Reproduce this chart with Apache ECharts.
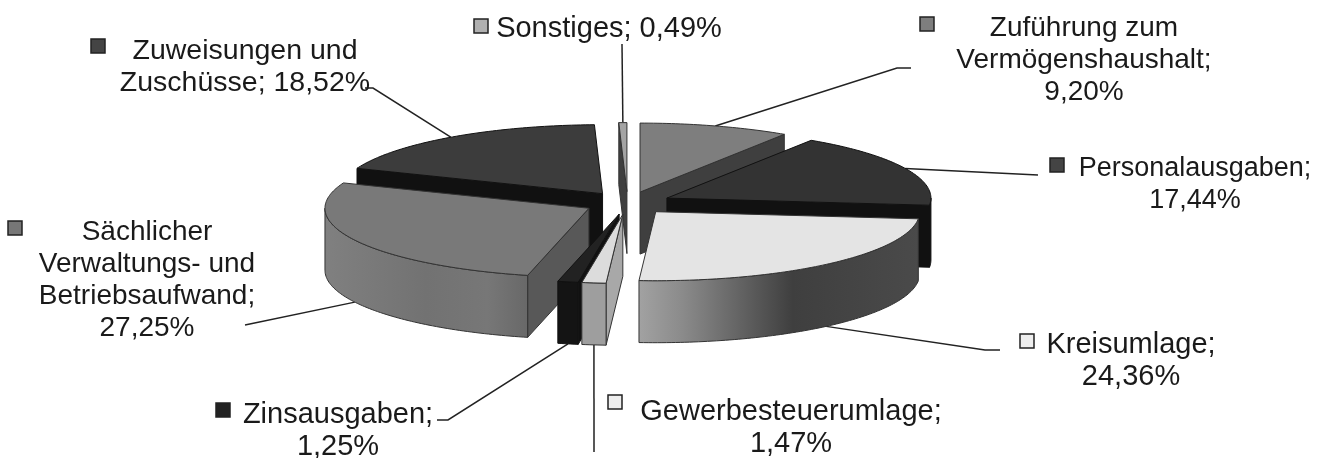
<!DOCTYPE html>
<html>
<head>
<meta charset="utf-8">
<title>Ausgaben</title>
<script src="https://cdn.jsdelivr.net/npm/echarts@6/dist/echarts.min.js"></script>
<style>
  html, body { margin: 0; padding: 0; background: #fff; }
  #main { width: 1342px; height: 458px; }
</style>
</head>
<body>
<div id="main"></div>
<script>
// data, clockwise from 12 o'clock
var categories = ['Zuführung zum\nVermögenshaushalt', 'Personalausgaben', 'Kreisumlage', 'Gewerbesteuerumlage',
  'Zinsausgaben', 'Sächlicher\nVerwaltungs- und\nBetriebsaufwand', 'Zuweisungen und\nZuschüsse', 'Sonstiges'];
var shares = [9.20, 17.44, 24.36, 1.47, 1.25, 27.25, 18.52, 0.49];
var valueSep = ['\n', '\n', '\n', '\n', '\n', '\n', ' ', ' '];

// pie projection
var cx = 627.6, cy = 203, rx = 264, ry = 69, depth = 62, explode = 0.165;

// greys of the slices
var topFill = ['#7e7e7e', '#333333', '#e4e4e4', '#dcdcdc', '#222222', '#797979', '#3c3c3c', '#a4a4a4'];
var cutFill = ['#3f3f3f', '#111111', '#111111', '#a8a8a8', '#111111', '#585858', '#111111', '#3f3f3f'];
var sideStops = [
  [[0, '#555'], [1, '#555']],
  [[0, '#111'], [1, '#111']],
  [[0, '#a2a2a2'], [0.16, '#8a8a8a'], [0.55, '#3f3f3f'], [1, '#4a4a4a']],
  [[0, '#9e9e9e'], [1, '#9e9e9e']],
  [[0, '#141414'], [1, '#141414']],
  [[0, '#808080'], [0.5, '#727272'], [0.8, '#777777'], [1, '#686868']],
  [[0, '#111'], [1, '#111']],
  [[0, '#555'], [1, '#555']]
];
var keyFill = ['#7e7e7e', '#444444', '#eeeeee', '#eeeeee', '#222222', '#777777', '#444444', '#b0b0b0'];

// label block centre, font size, legend key centre, leader line elbow points
var labelPos = [[1084, 60], [1195, 185], [1131, 361], [791, 428], [338, 431], [147, 280], [245, 67], [609, 29]];
var labelSize = [28, 27, 29, 29, 29, 28, 28.5, 29];
var keyPos = [[927, 24], [1057, 165], [1027, 341], [615, 402], [223, 410], [15, 228], [98, 46], [481, 26]];
var leaderEnds = [
  [[897, 68], [911, 68]],
  [[1038, 175]],
  [[985, 350], [1000, 350]],
  [[594, 452]],
  [[448, 420], [437, 420]],
  [[245, 325]],
  [[373, 88], [365, 88]],
  [[622, 44]]
];

var total = shares.reduce(function (a, b) { return a + b; }, 0);
var slices = [];
var acc = 0;
shares.forEach(function (v, i) {
  var t1 = acc / total * 360;
  acc += v;
  var t2 = acc / total * 360;
  var mid = (t1 + t2) / 2 * Math.PI / 180;
  slices.push({
    i: i, t1: t1, t2: t2, mid: (t1 + t2) / 2,
    cx: cx + explode * rx * Math.sin(mid),
    cy: cy - explode * ry * Math.cos(mid)
  });
});

function rimPoint(s, deg, drop) {
  var a = deg * Math.PI / 180;
  return [s.cx + rx * Math.sin(a), s.cy - ry * Math.cos(a) + (drop || 0)];
}
function arcPoints(s, from, to, drop) {
  var pts = [];
  var n = Math.max(2, Math.ceil(to - from));
  for (var k = 0; k <= n; k++) {
    pts.push(rimPoint(s, from + (to - from) * k / n, drop));
  }
  return pts;
}
function poly(points, fill, stroke) {
  return { type: 'polygon', shape: { points: points }, style: { fill: fill, stroke: stroke, lineWidth: 1 } };
}

function renderSlice(params, api) {
  var s = slices[api.value(0)];
  var kids = [];
  var apex = [s.cx, s.cy];
  var apexLow = [s.cx, s.cy + depth];
  var dark = s.i == 1 || s.i == 4 || s.i == 6 ? '#111' : '#333';

  // cut faces, only the ones turned to the viewer
  if (Math.sin(s.t1 * Math.PI / 180) < 0) {
    kids.push(poly([apex, rimPoint(s, s.t1), rimPoint(s, s.t1, depth), apexLow], cutFill[s.i], dark));
  }
  if (Math.sin(s.t2 * Math.PI / 180) > 0) {
    kids.push(poly([apex, rimPoint(s, s.t2), rimPoint(s, s.t2, depth), apexLow], cutFill[s.i], dark));
  }
  // outer wall
  var from = Math.max(s.t1, 90), to = Math.min(s.t2, 270);
  if (to > from) {
    var wall = arcPoints(s, from, to, 0).concat(arcPoints(s, from, to, depth).reverse());
    var stops = sideStops[s.i].map(function (st) { return { offset: st[0], color: st[1] }; });
    // gradient runs left to right on screen
    kids.push(poly(wall, new echarts.graphic.LinearGradient(0, 0, 1, 0, stops), dark));
  }
  // top
  kids.push(poly([apex].concat(arcPoints(s, s.t1, s.t2, 0)), topFill[s.i], dark));
  return { type: 'group', children: kids };
}

function renderLeader(params, api) {
  var s = slices[api.value(0)];
  // attaches at the middle of the slice rim, on the wall when the rim is at the front
  var front = Math.cos(s.mid * Math.PI / 180) < 0 && s.i != 1;
  var start = rimPoint(s, s.mid, front ? depth : 0);
  return {
    type: 'polyline',
    shape: { points: [start].concat(leaderEnds[s.i]) },
    style: { fill: null, stroke: '#222', lineWidth: 1.5 }
  };
}

function renderLabel(params, api) {
  var i = api.value(0);
  var txt = categories[i] + ';' + valueSep[i] + shares[i].toFixed(2).replace('.', ',') + '%';
  return {
    type: 'group',
    children: [
      {
        type: 'rect',
        shape: { x: keyPos[i][0] - 7, y: keyPos[i][1] - 7, width: 14, height: 14 },
        style: { fill: keyFill[i], stroke: '#222', lineWidth: 1.5 }
      },
      {
        type: 'text',
        x: labelPos[i][0],
        y: labelPos[i][1],
        style: {
          text: txt,
          fill: '#1a1a1a',
          fontFamily: '"Liberation Sans", Arial, sans-serif',
          fontSize: labelSize[i],
          lineHeight: 32,
          align: 'center',
          verticalAlign: 'middle'
        }
      }
    ]
  };
}

// back slices first
var drawOrder = slices.slice().sort(function (a, b) {
  return Math.cos(b.mid * Math.PI / 180) - Math.cos(a.mid * Math.PI / 180);
}).map(function (s) { return [s.i]; });
var indexes = shares.map(function (v, i) { return [i]; });

var chart = echarts.init(document.getElementById('main'));
chart.setOption({
  animation: false,
  backgroundColor: '#ffffff',
  series: [
    { type: 'custom', coordinateSystem: 'none', silent: true, z: 1, renderItem: renderLeader, data: indexes },
    { type: 'custom', coordinateSystem: 'none', silent: true, z: 2, renderItem: renderSlice, data: drawOrder },
    { type: 'custom', coordinateSystem: 'none', silent: true, z: 3, renderItem: renderLabel, data: indexes }
  ]
});
</script>
</body>
</html>
